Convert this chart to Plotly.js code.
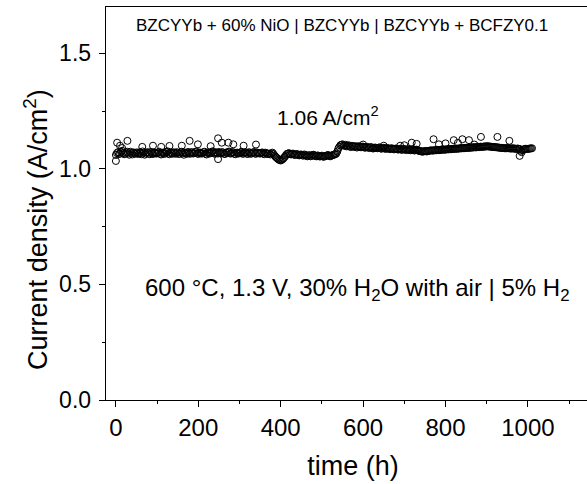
<!DOCTYPE html>
<html>
<head>
<meta charset="utf-8">
<script src="https://cdn.plot.ly/plotly-3.0.1.min.js"></script>
<style>
html,body{margin:0;padding:0;overflow:hidden;background:#fff;}
#chart{width:600px;height:484px;}
</style>
</head>
<body>
<div id="chart"></div>
<script>
// Stability readings, first logging channel (time in h, current density in A/cm2)
var timeMain = [
0,5,10,15,20,25,30,35,40,45,
50,55,60,65,70,75,80,85,90,95,
100,105,110,115,120,125,130,135,140,145,
150,155,160,165,170,175,180,185,190,195,
200,205,210,215,220,225,230,235,240,245,
250,255,260,265,270,275,280,285,290,295,
300,305,310,315,320,325,330,335,340,345,
350,355,360,365,370,375,380,385,390,395,
400,405,410,415,420,425,430,435,440,445,
450,455,460,465,470,475,480,485,490,495,
500,505,510,515,520,525,530,535,540,545,
550,555,560,565,570,575,580,585,590,595,
600,605,610,615,620,625,630,635,640,645,
650,655,660,665,670,675,680,685,690,695,
700,705,710,715,720,725,730,735,740,745,
750,755,760,765,770,775,780,785,790,795,
800,805,810,815,820,825,830,835,840,845,
850,855,860,865,870,875,880,885,890,895,
900,905,910,915,920,925,930,935,940,945,
950,955,960,965,970,975,980,985,990,995,
1000,1005,1010
];
var currentMain = [
1.060,1.072,1.066,1.078,1.063,1.070,1.067,1.074,1.062,1.069,
1.071,1.064,1.068,1.075,1.061,1.070,1.066,1.073,1.064,1.069,
1.067,1.074,1.062,1.070,1.068,1.076,1.063,1.069,1.072,1.065,
1.070,1.066,1.074,1.061,1.069,1.073,1.065,1.071,1.068,1.075,
1.064,1.070,1.067,1.074,1.062,1.071,1.068,1.076,1.065,1.070,
1.073,1.066,1.071,1.064,1.069,1.075,1.067,1.072,1.063,1.070,
1.068,1.074,1.066,1.071,1.064,1.070,1.067,1.073,1.065,1.069,
1.066,1.071,1.063,1.068,1.064,1.062,1.070,1.058,1.048,1.040,
1.036,1.042,1.052,1.064,1.068,1.062,1.066,1.060,1.064,1.058,
1.062,1.057,1.060,1.054,1.059,1.056,1.061,1.055,1.058,1.053,
1.057,1.052,1.056,1.060,1.054,1.058,1.062,1.066,1.088,1.102,
1.106,1.100,1.097,1.102,1.094,1.099,1.096,1.092,1.098,1.093,
1.096,1.091,1.095,1.090,1.094,1.088,1.092,1.089,1.093,1.087,
1.091,1.086,1.090,1.085,1.089,1.084,1.088,1.083,1.087,1.082,
1.086,1.081,1.085,1.080,1.084,1.079,1.083,1.078,1.076,1.074,
1.077,1.075,1.078,1.080,1.079,1.081,1.082,1.081,1.083,1.084,
1.083,1.085,1.086,1.085,1.087,1.088,1.087,1.089,1.090,1.089,
1.091,1.092,1.091,1.093,1.094,1.093,1.095,1.096,1.095,1.097,
1.098,1.097,1.096,1.095,1.094,1.093,1.092,1.091,1.090,1.089,
1.090,1.089,1.088,1.089,1.087,1.088,1.086,1.072,1.084,1.087,
1.086,1.088,1.089
];
// Stability readings, interleaved logging channel
var timeAlt = [
2.5,7.5,12.5,17.5,22.5,27.5,32.5,37.5,42.5,47.5,
52.5,57.5,62.5,67.5,72.5,77.5,82.5,87.5,92.5,97.5,
102.5,107.5,112.5,117.5,122.5,127.5,132.5,137.5,142.5,147.5,
152.5,157.5,162.5,167.5,172.5,177.5,182.5,187.5,192.5,197.5,
202.5,207.5,212.5,217.5,222.5,227.5,232.5,237.5,242.5,247.5,
252.5,257.5,262.5,267.5,272.5,277.5,282.5,287.5,292.5,297.5,
302.5,307.5,312.5,317.5,322.5,327.5,332.5,337.5,342.5,347.5,
352.5,357.5,362.5,367.5,372.5,377.5,382.5,387.5,392.5,397.5,
402.5,407.5,412.5,417.5,422.5,427.5,432.5,437.5,442.5,447.5,
452.5,457.5,462.5,467.5,472.5,477.5,482.5,487.5,492.5,497.5,
502.5,507.5,512.5,517.5,522.5,527.5,532.5,537.5,542.5,547.5,
552.5,557.5,562.5,567.5,572.5,577.5,582.5,587.5,592.5,597.5,
602.5,607.5,612.5,617.5,622.5,627.5,632.5,637.5,642.5,647.5,
652.5,657.5,662.5,667.5,672.5,677.5,682.5,687.5,692.5,697.5,
702.5,707.5,712.5,717.5,722.5,727.5,732.5,737.5,742.5,747.5,
752.5,757.5,762.5,767.5,772.5,777.5,782.5,787.5,792.5,797.5,
802.5,807.5,812.5,817.5,822.5,827.5,832.5,837.5,842.5,847.5,
852.5,857.5,862.5,867.5,872.5,877.5,882.5,887.5,892.5,897.5,
902.5,907.5,912.5,917.5,922.5,927.5,932.5,937.5,942.5,947.5,
952.5,957.5,962.5,967.5,972.5,977.5,982.5,987.5,992.5,997.5,
1002.5,1007.5
];
var currentAlt = [
1.068,1.064,1.073,1.069,1.066,1.074,1.061,1.068,1.071,1.065,
1.067,1.072,1.063,1.070,1.066,1.072,1.063,1.068,1.071,1.066,
1.071,1.065,1.069,1.064,1.073,1.066,1.071,1.065,1.068,1.072,
1.064,1.071,1.067,1.070,1.065,1.068,1.072,1.066,1.073,1.067,
1.070,1.066,1.072,1.065,1.069,1.066,1.073,1.068,1.071,1.066,
1.068,1.072,1.065,1.070,1.073,1.066,1.071,1.065,1.069,1.066,
1.071,1.065,1.070,1.066,1.072,1.065,1.070,1.066,1.071,1.067,
1.069,1.066,1.070,1.065,1.066,1.067,1.064,1.052,1.044,1.038,
1.039,1.047,1.058,1.066,1.064,1.065,1.061,1.063,1.060,1.061,
1.058,1.062,1.056,1.058,1.054,1.060,1.057,1.054,1.056,1.055,
1.053,1.055,1.058,1.056,1.057,1.060,1.063,1.075,1.095,1.104,
1.101,1.104,1.099,1.097,1.099,1.095,1.098,1.095,1.094,1.096,
1.093,1.094,1.092,1.093,1.089,1.091,1.090,1.091,1.088,1.090,
1.088,1.089,1.087,1.088,1.086,1.087,1.085,1.086,1.083,1.085,
1.083,1.084,1.082,1.083,1.081,1.082,1.080,1.077,1.075,1.076,
1.076,1.077,1.079,1.079,1.080,1.080,1.081,1.082,1.082,1.083,
1.084,1.084,1.085,1.086,1.086,1.087,1.088,1.088,1.089,1.090,
1.090,1.091,1.092,1.092,1.093,1.094,1.094,1.095,1.096,1.096,
1.097,1.096,1.095,1.094,1.093,1.092,1.091,1.090,1.089,1.089,
1.089,1.088,1.088,1.087,1.086,1.086,1.078,1.080,1.086,1.086,
1.087,1.088
];
// Scattered outlier readings
var timeOut = [0,3,10,15,28,64,90,110,130,160,179,199,230,248,248,257,273,285,310,340,600,650,690,700,718,730,771,784,800,820,830,841,857,870,886,926,955,980];
var currentOut = [1.034,1.113,1.100,1.090,1.121,1.095,1.100,1.095,1.099,1.100,1.121,1.106,1.098,1.132,1.042,1.113,1.113,1.106,1.100,1.105,1.105,1.100,1.100,1.102,1.113,1.108,1.128,1.106,1.110,1.124,1.112,1.128,1.124,1.105,1.138,1.138,1.121,1.056];

var xTickVals = [0,200,400,600,800,1000];
var yTickVals = [0.0,0.5,1.0,1.5];
var yTickText = ["0.0","0.5","1.0","1.5"];

var fontFam = "Arial, 'Liberation Sans', sans-serif";
var marker = {symbol:'circle-open', size:7, color:'#000', line:{width:1, color:'#000'}};

var traces = [
  {x: timeMain, y: currentMain, type:'scatter', mode:'markers', marker: marker, showlegend:false, hoverinfo:'x+y'},
  {x: timeAlt, y: currentAlt, type:'scatter', mode:'markers', marker: marker, showlegend:false, hoverinfo:'x+y'},
  {x: timeOut, y: currentOut, type:'scatter', mode:'markers', marker: marker, showlegend:false, hoverinfo:'x+y'}
];

var layout = {
  width: 600, height: 484,
  margin: {l:106, r:0, t:7, b:84},
  paper_bgcolor:'#fff', plot_bgcolor:'#fff',
  font: {family: fontFam, color:'#000'},
  xaxis: {
    range: [-24, 1175],
    tickvals: xTickVals,
    ticks:'outside', ticklen:6, tickwidth:1, tickcolor:'#000',
    minor: {dtick:100, tick0:0, ticks:'outside', ticklen:3, tickwidth:1, tickcolor:'#000', showgrid:false},
    showline:true, linecolor:'#000', linewidth:1.3, mirror:true,
    showgrid:false, zeroline:false,
    tickfont:{size:24, family:fontFam, color:'#000'},
    title:{text:'time (h)', font:{size:27, family:fontFam, color:'#000'}, standoff:16}
  },
  yaxis: {
    range: [0, 1.70],
    tickvals: yTickVals, ticktext: yTickText,
    ticks:'outside', ticklen:6, tickwidth:1, tickcolor:'#000',
    ticklabelstandoff: 3,
    minor: {dtick:0.25, tick0:0, ticks:'outside', ticklen:3, tickwidth:1, tickcolor:'#000', showgrid:false},
    showline:true, linecolor:'#000', linewidth:1.3, mirror:true,
    showgrid:false, zeroline:false,
    tickfont:{size:23, family:fontFam, color:'#000'}
  },
  annotations: [
    {text:'Current density (A/cm<sup>2</sup>)', textangle:-90, xref:'paper', yref:'paper', x:-0.142, y:0.435, xanchor:'center', yanchor:'middle', showarrow:false, font:{size:27, family:fontFam, color:'#000'}},
    {text:'BZCYYb + 60% NiO | BZCYYb | BZCYYb + BCFZY0.1', xref:'paper', yref:'paper', x:0.478, y:0.952, xanchor:'center', yanchor:'middle', showarrow:false, font:{size:17, family:fontFam, color:'#000'}},
    {text:'1.06 A/cm<sup>2</sup>', xref:'paper', yref:'paper', x:0.449, y:0.722, xanchor:'center', yanchor:'middle', showarrow:false, font:{size:21, family:fontFam, color:'#000'}},
    {text:'600 °C, 1.3 V, 30% H<sub>2</sub>O with air | 5% H<sub>2</sub>', xref:'paper', yref:'paper', x:0.51, y:0.282, xanchor:'center', yanchor:'middle', showarrow:false, font:{size:24, family:fontFam, color:'#000'}}
  ]
};

Plotly.newPlot('chart', traces, layout, {staticPlot:true, displayModeBar:false});
</script>
</body>
</html>
